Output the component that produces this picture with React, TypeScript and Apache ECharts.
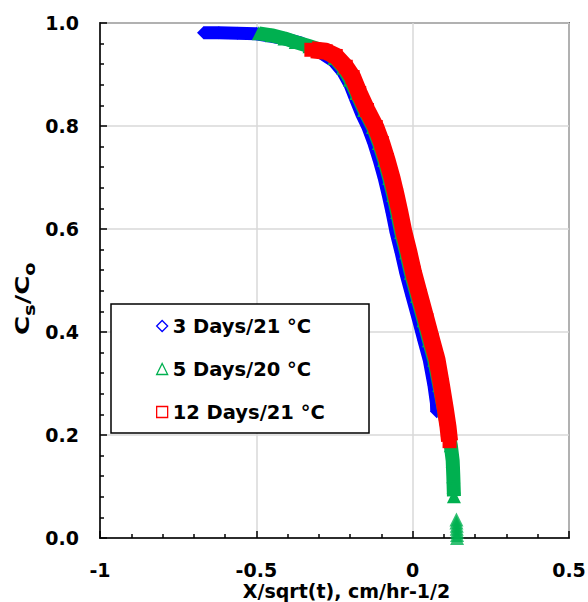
import React, { useEffect, useRef } from "react";
import * as echarts from "echarts";

// 3 Days/21 °C (blue diamonds)
const blueX = [-0.669, -0.62, -0.56, -0.5, -0.45, -0.4, -0.358, -0.3, -0.252, -0.223, -0.2, -0.184, -0.164, -0.143, -0.124, -0.107, -0.091, -0.078, -0.066, -0.053, -0.037, -0.022, -0.002, 0.019, 0.036, 0.053, 0.068, 0.076, 0.077];
const blueY = [0.981, 0.981, 0.98, 0.979, 0.974, 0.968, 0.961, 0.945, 0.926, 0.905, 0.88, 0.855, 0.825, 0.798, 0.767, 0.734, 0.699, 0.666, 0.633, 0.594, 0.555, 0.515, 0.47, 0.423, 0.384, 0.346, 0.297, 0.262, 0.245];

// 5 Days/20 °C (green triangles)
const greenX = [-0.492, -0.45, -0.41, -0.374, -0.33, -0.284, -0.25, -0.222, -0.2, -0.18, -0.155, -0.127, -0.108, -0.091, -0.075, -0.062, -0.05, -0.037, -0.021, -0.006, 0.014, 0.035, 0.052, 0.069, 0.085, 0.1, 0.112, 0.122, 0.128, 0.13, 0.131, 0.132];
const greenY = [0.98, 0.976, 0.97, 0.963, 0.955, 0.946, 0.932, 0.913, 0.89, 0.864, 0.831, 0.798, 0.767, 0.734, 0.699, 0.666, 0.633, 0.594, 0.555, 0.515, 0.47, 0.423, 0.384, 0.346, 0.297, 0.249, 0.21, 0.18, 0.15, 0.12, 0.1, 0.081];
const greenTailX = [0.14, 0.14, 0.141, 0.141, 0.142, 0.142, 0.142];
const greenTailY = [0.036, 0.03, 0.024, 0.018, 0.012, 0.006, 0.0];

// 12 Days/21 °C (red squares)
const redX = [-0.324, -0.278, -0.246, -0.214, -0.192, -0.171, -0.146, -0.118, -0.099, -0.082, -0.066, -0.053, -0.041, -0.028, -0.012, 0.003, 0.023, 0.044, 0.061, 0.078, 0.092, 0.105, 0.113, 0.118];
const redY = [0.948, 0.945, 0.936, 0.915, 0.895, 0.864, 0.831, 0.798, 0.767, 0.734, 0.699, 0.666, 0.633, 0.594, 0.555, 0.515, 0.47, 0.423, 0.384, 0.346, 0.297, 0.249, 0.216, 0.188];

const seriesNames = ["3 Days/21 °C", "5 Days/20 °C", "12 Days/21 °C"];
const xTickStep = 0.5;
const yTickStep = 0.2;

const zip = (xs: number[], ys: number[]) => xs.map((x, i) => [x, ys[i]]);

export default function App() {
  const ref = useRef<HTMLDivElement>(null);
  useEffect(() => {
    if (!ref.current) return;
    const chart = echarts.init(ref.current, null, { renderer: "svg" });
    const font = "DejaVu Sans";
    const black = "#000";
    const lbl = { color: black, fontFamily: font, fontWeight: "bold", fontSize: 19 };
    const tick = { inside: true, length: 7, lineStyle: { color: black, width: 1.5 } };
    const minor = { show: true, splitNumber: 5, length: 4, lineStyle: { color: black, width: 1.5 } };
    const split = { show: true, lineStyle: { color: "#d9d9d9", width: 1.5 } };
    const subText = (t: string, x: number, y: number, size: number) => ({
      type: "text",
      x,
      y,
      style: {
        text: t,
        font: `bold ${size}px "DejaVu Sans"`,
        fill: black,
        textAlign: "left",
        textVerticalAlign: "middle",
        align: "left",
        verticalAlign: "middle",
      },
    });
    chart.setOption({
      animation: false,
      backgroundColor: "#fff",
      grid: {
        left: 100,
        right: 19,
        top: 23,
        bottom: 64,
        containLabel: false,
        outerBoundsMode: "none",
        show: true,
        borderColor: black,
        borderWidth: 1.5,
        backgroundColor: "transparent",
      },
      xAxis: {
        type: "value",
        min: -1,
        max: 0.5,
        interval: xTickStep,
        axisLine: { onZero: false, lineStyle: { color: black, width: 1.5 } },
        axisTick: tick,
        minorTick: minor,
        splitLine: split,
        axisLabel: { ...lbl, lineHeight: 17, margin: 23, formatter: (v: number) => String(v) },
        name: "X/sqrt(t), cm/hr-1/2",
        nameLocation: "middle",
        nameGap: 44,
        nameMoveOverlap: false,
        nameTextStyle: { ...lbl, fontSize: 19, lineHeight: 18, padding: [0, 0, 0, 24] },
      },
      yAxis: {
        type: "value",
        min: 0,
        max: 1,
        interval: yTickStep,
        axisLine: { onZero: false, lineStyle: { color: black, width: 1.5 } },
        axisTick: tick,
        minorTick: minor,
        splitLine: split,
        axisLabel: { ...lbl, margin: 21, formatter: (v: number) => v.toFixed(1) },
      },
      legend: {
        show: true,
        orient: "vertical",
        left: 156,
        top: 316,
        padding: 0,
        itemGap: 23,
        itemWidth: 11,
        itemHeight: 11,
        z: 11,
        textStyle: { ...lbl, fontSize: 19.5, lineHeight: 20 },
        data: [
          { name: seriesNames[0], icon: "diamond", itemStyle: { color: "#fff", borderColor: "#0000ff", borderWidth: 1.3 } },
          { name: seriesNames[1], icon: "triangle", itemStyle: { color: "#fff", borderColor: "#00b050", borderWidth: 1.3 } },
          { name: seriesNames[2], icon: "rect", itemStyle: { color: "#fff", borderColor: "#ff0000", borderWidth: 1.3 } },
        ],
      },
      graphic: [
        {
          type: "rect",
          z: 10,
          shape: { x: 111, y: 304, width: 258, height: 129 },
          style: { fill: "#fff", stroke: black, lineWidth: 1.5 },
        },
        {
          type: "group",
          x: 29,
          y: 335,
          rotation: Math.PI / 2,
          scaleX: 1.3,
          children: [
            subText("C", 0, -7, 20),
            subText("s", 14.7, 1, 15),
            subText("/", 23.6, -7, 20),
            subText("C", 30.9, -7, 20),
            subText("o", 45.6, 1, 15),
          ],
        },
      ],
      series: [
        {
          name: seriesNames[0],
          type: "line",
          data: zip(blueX, blueY),
          symbol: "diamond",
          symbolSize: 13,
          showSymbol: true,
          lineStyle: { color: "#0000ff", width: 13, join: "round", cap: "butt" },
          itemStyle: { color: "#0000ff" },
          z: 2,
          silent: true,
          clip: false,
        },
        {
          name: seriesNames[1],
          type: "line",
          data: zip(greenX, greenY),
          symbol: "triangle",
          symbolSize: 14,
          showSymbol: true,
          lineStyle: { color: "#00b050", width: 14, join: "round", cap: "butt" },
          itemStyle: { color: "#00b050" },
          z: 3,
          silent: true,
          clip: false,
        },
        {
          name: seriesNames[1],
          type: "scatter",
          data: zip(greenTailX, greenTailY),
          symbol: "triangle",
          symbolSize: 14,
          itemStyle: { color: "#00b050" },
          z: 3,
          silent: true,
          clip: false,
        },
        {
          name: seriesNames[2],
          type: "line",
          data: zip(redX, redY),
          symbol: "rect",
          symbolSize: 14,
          showSymbol: true,
          lineStyle: { color: "#ff0000", width: 17, join: "round", cap: "butt" },
          itemStyle: { color: "#ff0000" },
          z: 4,
          silent: true,
          clip: false,
        },
      ],
    });
    return () => chart.dispose();
  }, []);
  return (
    <div
      ref={ref}
      style={{ position: "absolute", left: 0, top: 0, width: 588, height: 602 }}
    />
  );
}
